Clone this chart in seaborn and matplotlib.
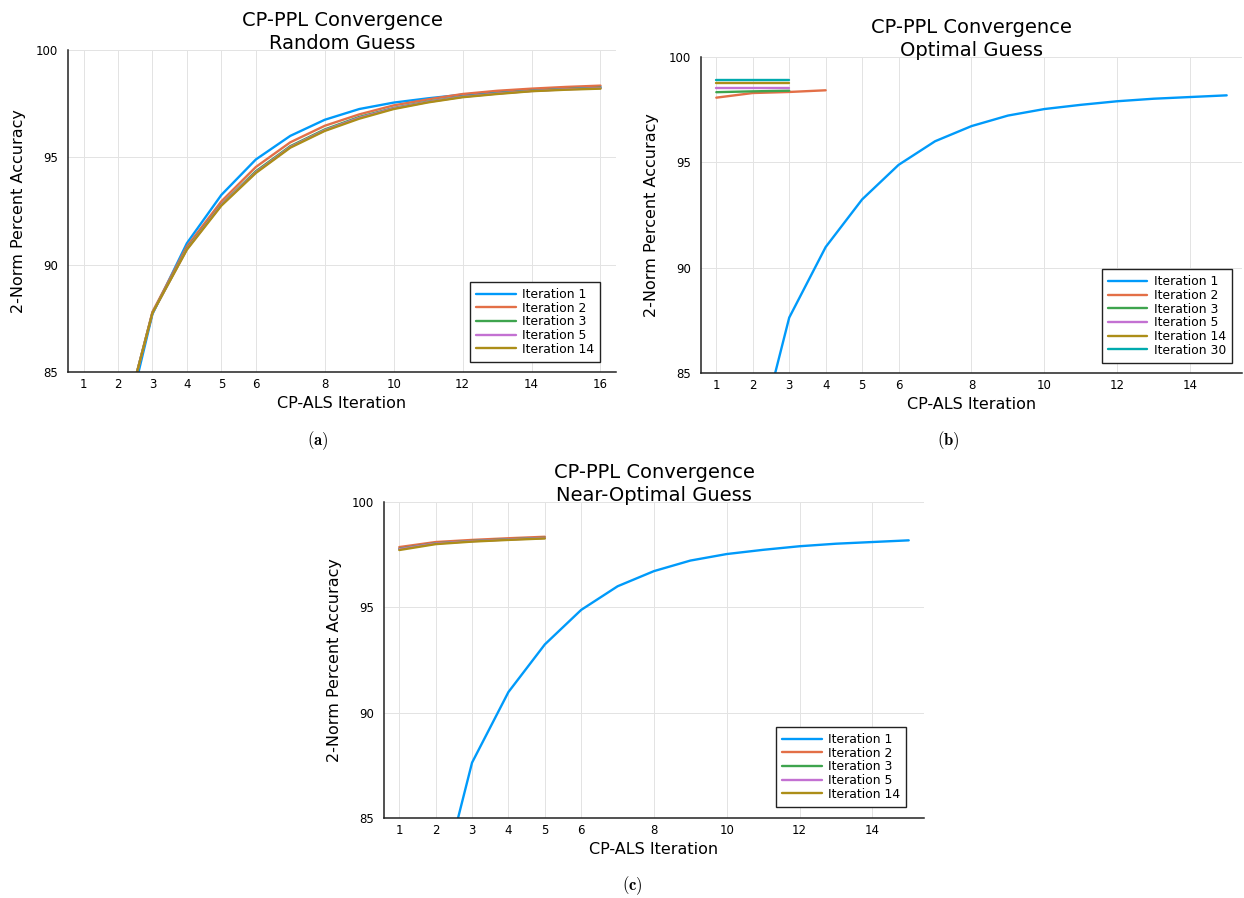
import numpy as np
import pandas as pd
import matplotlib
matplotlib.use("Agg")
import matplotlib.pyplot as plt
import seaborn as sns

# ---------------- data ----------------
# Panel (a): Random Guess
a_x = list(range(1, 17))
a_it1 = [62.0, 81.0, 87.70, 91.00, 93.25, 94.90, 96.00, 96.75, 97.25, 97.55, 97.75, 97.92, 98.05, 98.14, 98.22, 98.28]
a_it2 = [62.5, 81.5, 87.80, 90.85, 92.95, 94.55, 95.70, 96.47, 97.00, 97.42, 97.70, 97.95, 98.10, 98.20, 98.28, 98.34]
a_it3 = [62.5, 81.6, 87.75, 90.75, 92.80, 94.35, 95.52, 96.30, 96.88, 97.30, 97.60, 97.83, 97.98, 98.10, 98.18, 98.24]
a_it5 = [62.5, 81.6, 87.75, 90.72, 92.78, 94.30, 95.48, 96.26, 96.84, 97.28, 97.58, 97.82, 97.97, 98.09, 98.17, 98.22]
a_it14 = [62.5, 81.6, 87.75, 90.70, 92.75, 94.27, 95.45, 96.23, 96.80, 97.25, 97.56, 97.80, 97.95, 98.08, 98.15, 98.20]
a_labels = ["Iteration 1", "Iteration 2", "Iteration 3", "Iteration 5", "Iteration 14"]
a_xticks = [1, 2, 3, 4, 5, 6, 8, 10, 12, 14, 16]

# Iteration 1 curve used in panels (b) and (c)
base_x = list(range(1, 16))
base_it1 = [62.0, 80.8, 87.63, 90.98, 93.24, 94.88, 96.00, 96.72, 97.22, 97.53, 97.73, 97.90, 98.02, 98.10, 98.18]

# Panel (b): Optimal Guess
b_it2 = [98.07, 98.29, 98.34, 98.42]
b_it3 = [98.33, 98.37, 98.40]
b_it5 = [98.53, 98.53, 98.53]
b_it14 = [98.77, 98.77, 98.77]
b_it30 = [98.92, 98.92, 98.92]
b_labels = ["Iteration 1", "Iteration 2", "Iteration 3", "Iteration 5", "Iteration 14", "Iteration 30"]

# Panel (c): Near-Optimal Guess
c_it2 = [97.86, 98.10, 98.20, 98.28, 98.35]
c_it3 = [97.78, 98.04, 98.15, 98.23, 98.30]
c_it5 = [97.76, 98.03, 98.14, 98.22, 98.29]
c_it14 = [97.72, 98.00, 98.12, 98.20, 98.27]
c_labels = ["Iteration 1", "Iteration 2", "Iteration 3", "Iteration 5", "Iteration 14"]
bc_xticks = [1, 2, 3, 4, 5, 6, 8, 10, 12, 14]

yticks = [85, 90, 95, 100]
colors = ["#009AFA", "#E36F47", "#3EA44E", "#C371D2", "#AC8E18", "#00AAAE"]

# ---------------- style ----------------
sns.set_style("white")
plt.rcParams["font.family"] = ["DejaVu Sans"]
plt.rcParams["mathtext.fontset"] = "cm"
plt.rcParams["text.color"] = "black"
plt.rcParams["axes.labelcolor"] = "black"
plt.rcParams["axes.titlecolor"] = "black"

W, H = 1244, 898
fig = plt.figure(figsize=(W / 100, H / 100), dpi=100)


def axes_px(left, right, top, bottom):
    return fig.add_axes([left / W, 1 - bottom / H, (right - left) / W, (bottom - top) / H])


def build(series, labels):
    frames = []
    for (xs, ys), lab in zip(series, labels):
        frames.append(pd.DataFrame({"iter": xs, "acc": ys, "series": lab}))
    return pd.concat(frames, ignore_index=True)


def draw(ax, df, labels, title, xticks, xlim, leg_anchor):
    pal = dict(zip(labels, colors[: len(labels)]))
    sns.lineplot(data=df, x="iter", y="acc", hue="series", hue_order=labels,
                 palette=pal, linewidth=1.7, ax=ax, legend=True, sort=False,
                 estimator=None)
    ax.set_xlim(*xlim)
    ax.set_ylim(85, 100)
    ax.set_xticks(xticks)
    ax.set_yticks(yticks)
    ax.grid(True, color="#e3e3e3", linewidth=0.7)
    ax.set_axisbelow(True)
    for s in ["top", "right"]:
        ax.spines[s].set_visible(False)
    for s in ["left", "bottom"]:
        ax.spines[s].set_color("#222222")
        ax.spines[s].set_linewidth(1.1)
    ax.tick_params(axis="both", direction="in", length=4, width=0.8,
                   labelsize=8.5, colors="#222222", labelcolor="black")
    ax.tick_params(axis="y", pad=7)
    ax.tick_params(axis="x", pad=4)
    ax.set_xlabel("CP-ALS Iteration", fontsize=11.5, labelpad=4, color="black")
    ax.set_ylabel("2-Norm Percent Accuracy", fontsize=11.5, labelpad=7, color="black")
    ax.set_title(title, fontsize=14, pad=1, linespacing=1.25, color="black")
    handles, labs = ax.get_legend_handles_labels()
    leg = ax.legend(handles, labs, loc="lower right", bbox_to_anchor=leg_anchor,
                    bbox_transform=ax.transAxes, borderaxespad=0, fontsize=8.9,
                    frameon=True, fancybox=False, framealpha=1, edgecolor="#222222",
                    handlelength=3.2, handletextpad=0.5, labelspacing=0.06,
                    borderpad=0.5)
    leg.get_frame().set_linewidth(1.0)
    for t in leg.get_texts():
        t.set_color("black")
    for lh in leg.get_lines():
        lh.set_linewidth(1.7)


# Panel (a)
ax_a = axes_px(68, 616, 50, 372)
df_a = build([(a_x, a_it1), (a_x, a_it2), (a_x, a_it3), (a_x, a_it5), (a_x, a_it14)], a_labels)
draw(ax_a, df_a, a_labels, "CP-PPL Convergence\nRandom Guess", a_xticks, (0.55, 16.45),
     (1 - 16 / 548, 10 / 322))

# Panel (b)
ax_b = axes_px(701, 1242, 57, 373)
df_b = build([(base_x, base_it1), ([1, 2, 3, 4], b_it2), ([1, 2, 3], b_it3),
              ([1, 2, 3], b_it5), ([1, 2, 3], b_it14), ([1, 2, 3], b_it30)], b_labels)
draw(ax_b, df_b, b_labels, "CP-PPL Convergence\nOptimal Guess", bc_xticks, (0.58, 15.42),
     (1 - 10 / 541, 10 / 316))

# Panel (c)
ax_c = axes_px(384, 924, 502, 818)
c_x = [1, 2, 3, 4, 5]
df_c = build([(base_x, base_it1), (c_x, c_it2), (c_x, c_it3), (c_x, c_it5), (c_x, c_it14)], c_labels)
draw(ax_c, df_c, c_labels, "CP-PPL Convergence\nNear-Optimal Guess", bc_xticks, (0.58, 15.42),
     (1 - 18 / 540, 11 / 316))

# Captions
for txt, (px, py) in [("(a)", (318, 441)), ("(b)", (948, 441)), ("(c)", (632, 886))]:
    fig.text(px / W, 1 - py / H, r"$\mathbf{" + txt + "}$", ha="center", va="center",
             fontsize=12, color="black")

fig.savefig("out.png", dpi=100)
